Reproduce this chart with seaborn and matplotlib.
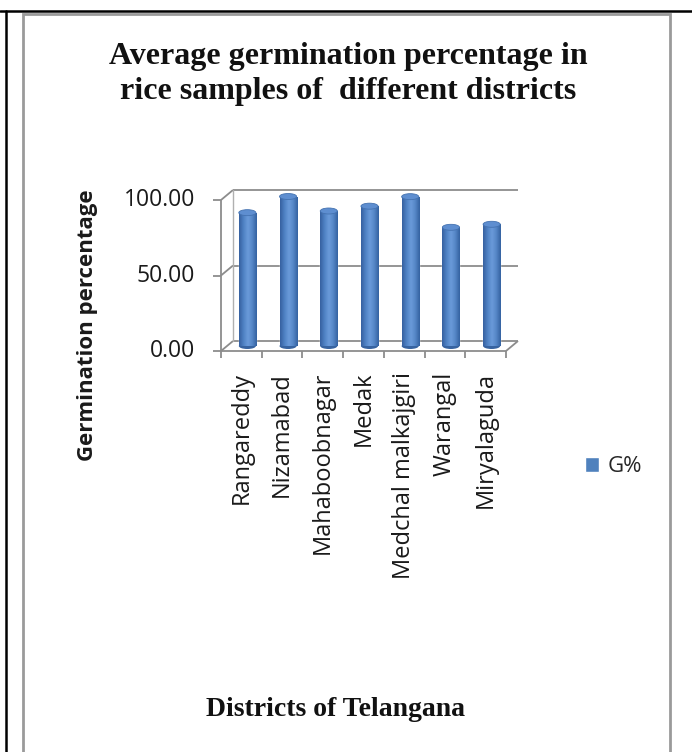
import numpy as np
import pandas as pd
import matplotlib
matplotlib.use('Agg')
import matplotlib.pyplot as plt
import seaborn as sns
from matplotlib.transforms import ScaledTranslation
from matplotlib.patches import Ellipse, Rectangle
from matplotlib.colors import LinearSegmentedColormap

# dados
districts = ['Rangareddy', 'Nizamabad', 'Mahaboobnagar', 'Medak',
             'Medchal malkajgiri', 'Warangal', 'Miryalaguda']
germ = [88.3, 99.0, 89.4, 92.6, 98.9, 78.6, 80.6]
yticks = [0, 50, 100]
series_name = 'G%'

df = pd.DataFrame({'district': districts, 'G': germ})

sns.set_theme(style='white')
plt.rcParams['font.family'] = ['Open Sans', 'DejaVu Sans']

fig = plt.figure(figsize=(6.92, 7.52), dpi=100)
W, H = 692, 752
# eixo = plano medio do grafico 3d
ax = fig.add_axes([227/W, 1-346/H, 285/W, 151/H])
ax.set_facecolor('none')

bar_col = '#4F81BD'
sns.barplot(data=df, x='district', y='G', color=bar_col, width=0.42,
            saturation=1, label=series_name, ax=ax, zorder=3)

n = len(districts)
xlo, xhi = -0.5, n - 0.5
ymax = max(yticks)

# sombreamento cilindrico das barras
cmap = LinearSegmentedColormap.from_list('cyl', ['#3660A0', '#4F82C4', '#6B9BDA', '#5586C6', '#3461A0'])
grad = np.linspace(0, 1, 64).reshape(1, -1)
ppx = ymax / 151.0  # unidades por pixel
for p in ax.patches:
    x0, w, h = p.get_x(), p.get_width(), p.get_height()
    im = ax.imshow(grad, extent=(x0, x0 + w, 0, h), aspect='auto', cmap=cmap,
                   zorder=3, interpolation='bicubic')
    im.set_clip_path(p)
    ax.add_patch(Ellipse((x0 + w/2, 0), w, 6*ppx, facecolor='#3763A0',
                         edgecolor='none', zorder=2.9, clip_on=False))
    ax.add_patch(Ellipse((x0 + w/2, h), w, 6*ppx, facecolor='#5E8ED0',
                         edgecolor='#4472B0', lw=0.6, zorder=4, clip_on=False))

ax.set_xlim(xlo, xhi)
ax.set_ylim(0, ymax)
ax.set_xticks([])
ax.set_yticks([])
ax.set_xlabel('')
ax.set_ylabel('')
for s in ax.spines.values():
    s.set_visible(False)

back = ax.transData + ScaledTranslation(6/100, 5/100, fig.dpi_scale_trans)
front = ax.transData + ScaledTranslation(-6/100, -5/100, fig.dpi_scale_trans)
gcol = '#8C8C8C'
lw = 1.3
kw = dict(color=gcol, lw=lw, clip_on=False, zorder=1, solid_capstyle='butt')

# parede do fundo e linhas de grade
for v in yticks:
    ax.plot([xlo, xhi], [v, v], transform=back, **kw)
    # diagonais na parede lateral
    x_f, y_f = front.transform((xlo, v))
    x_b, y_b = back.transform((xlo, v))
    ax.plot([x_f, x_b], [y_f, y_b], transform=None, **kw)
ax.plot([xlo, xlo], [0, ymax], transform=back, color='#B0B0B0', lw=1.0, clip_on=False, zorder=1)
# piso
ax.plot([xlo, xhi], [0, 0], transform=front, **kw)
x_f, y_f = front.transform((xhi, 0))
x_b, y_b = back.transform((xhi, 0))
ax.plot([x_f, x_b], [y_f, y_b], transform=None, **kw)
# eixo y frontal
ax.plot([xlo, xlo], [0, ymax], transform=front, **kw)

for v in yticks:
    x0, y0 = front.transform((xlo, v))
    ax.plot([x0 - 8, x0], [y0, y0], transform=None, **kw)
    ax.text(xlo, v, f'{v:.2f}', transform=front + ScaledTranslation(-26/100, 0, fig.dpi_scale_trans),
            ha='right', va='center', fontsize=16.5, color='#1a1a1a')

for i in range(n + 1):
    x0, y0 = front.transform((xlo + i, 0))
    ax.plot([x0, x0], [y0, y0 - 7], transform=None, **kw)

for i, d in enumerate(districts):
    ax.text(i, 0, d, transform=front + ScaledTranslation(0, -21/100, fig.dpi_scale_trans),
            rotation=90, ha='center', va='top', fontsize=17, color='#1a1a1a')

fig.text(88/W, 1-325/H, 'Germination percentage', rotation=90, ha='center', va='center',
         fontsize=16, fontweight='bold', color='#1a1a1a')

fig.text(348/W, 1-74/H, 'Average germination percentage in\nrice samples of  different districts',
         ha='center', va='center', fontsize=23, fontweight='bold', linespacing=1.3,
         family='Liberation Serif', color='#111111')
fig.text(335/W, 1-710/H, 'Districts of Telangana', ha='center', va='center',
         fontsize=20, fontweight='bold', family='Liberation Serif', color='#111111')

ax.legend(loc='center left', bbox_to_anchor=(585/W, 1-467/H), bbox_transform=fig.transFigure,
          frameon=False, handlelength=0.65, handleheight=0.65, handletextpad=0.35,
          borderpad=0, borderaxespad=0, fontsize=16)

# molduras
fig.add_artist(plt.Line2D([0, 1], [1-11/H, 1-11/H], transform=fig.transFigure, color='black', lw=1.8))
fig.add_artist(plt.Line2D([6/W, 6/W], [0, 1-11/H], transform=fig.transFigure, color='black', lw=1.8))
fig.add_artist(Rectangle((23/W, -0.05), (670-23)/W, 1-14/H+0.05, transform=fig.transFigure,
                         fill=False, edgecolor='#9A9A9A', lw=2.0))

fig.savefig('out.png', dpi=100)
